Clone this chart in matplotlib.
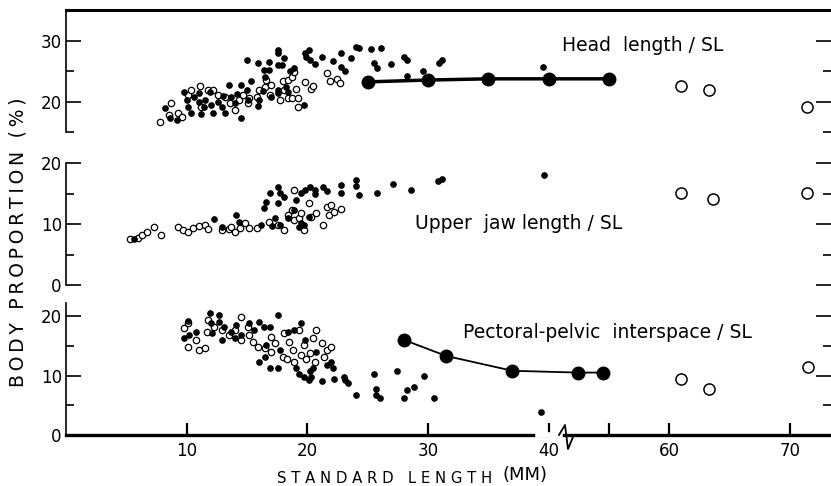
import numpy as np
import matplotlib
matplotlib.use("Agg")
import matplotlib.pyplot as plt
from matplotlib.lines import Line2D

# ---------------- data ----------------
# Head length / SL (%)
head_filled_x = [8.2, 8.6, 9.2, 9.8, 10.0, 10.1, 10.6, 11.0, 11.0, 11.5, 11.4, 12.2, 11.9, 12.6, 12.9,
                 13.2, 13.5, 13.7, 14.0, 14.5, 14.5, 15.0, 15.1, 15.3, 15.0, 15.9, 16.0, 15.9, 16.4,
                 16.8, 16.8, 16.5, 17.0, 17.6, 17.6, 17.6, 17.9, 18.1, 17.6, 17.6, 18.4, 18.9, 19.7,
                 19.8, 19.9, 20.1, 20.2, 20.6, 21.2, 22.1, 22.8, 22.8, 23.1, 23.6, 24.0, 24.3, 25.3,
                 26.1, 25.5, 25.8, 26.9, 28.0, 28.3, 28.3, 29.6, 30.9, 31.2, 39.5,
                 10.4, 12.0, 13.0, 11.2, 14.2, 16.3, 18.2, 18.6]
head_filled_y = [19.0, 17.4, 17.0, 21.6, 20.3, 19.2, 20.8, 21.5, 20.0, 20.3, 19.2, 18.2, 21.6, 20.0, 19.2,
                 18.2, 22.8, 20.8, 19.8, 17.4, 22.8, 22.0, 20.3, 23.5, 26.9, 19.3, 20.3, 26.4, 25.2,
                 26.6, 25.2, 24.1, 20.8, 28.5, 28.0, 26.1, 26.1, 27.2, 22.0, 21.5, 21.6, 25.6, 19.5,
                 28.0, 27.4, 28.5, 26.9, 26.2, 27.4, 26.7, 28.0, 25.8, 25.1, 27.2, 29.0, 28.8, 28.7,
                 28.9, 26.4, 25.6, 26.2, 27.4, 26.9, 24.3, 25.1, 26.4, 26.9, 25.7,
                 18.2, 19.5, 21.0, 18.0, 21.3, 21.8, 22.5, 25.0]
head_open_x = [7.8, 8.7, 8.5, 9.3, 9.6, 10.1, 10.4, 11.1, 11.2, 11.8, 12.2, 12.6, 13.2, 13.6, 14.0,
               14.3, 14.7, 15.1, 15.2, 15.8, 16.0, 16.5, 16.6, 16.9, 17.0, 17.7, 18.0, 18.1, 18.4,
               18.7, 18.4, 18.7, 19.1, 19.2, 19.2, 18.9, 19.8, 20.3, 20.5, 21.6, 21.9, 22.5, 22.7]
head_open_y = [16.7, 19.8, 17.9, 18.2, 17.5, 21.1, 22.0, 22.6, 19.2, 22.0, 22.0, 21.1, 20.8, 19.8, 18.7,
               20.3, 21.1, 19.8, 20.6, 20.8, 22.0, 22.5, 23.6, 21.1, 22.8, 20.3, 23.5, 22.0, 20.6,
               20.6, 23.6, 24.1, 22.1, 20.6, 19.2, 24.9, 23.3, 22.1, 22.6, 24.8, 23.4, 23.8, 23.1]
head_mean_x = [25, 30, 35, 40, 55]
head_mean_y = [23.3, 23.6, 23.8, 23.8, 23.8]
head_big_open_x = [61.0, 63.3, 71.4]
head_big_open_y = [22.6, 22.0, 19.2]

# Upper jaw length / SL (%)
jaw_filled_x = [5.6, 12.3, 12.9, 14.1, 14.3, 16.2, 16.4, 16.6, 16.9, 17.6, 17.7, 17.6, 18.1, 18.4,
                18.9, 19.1, 19.5, 19.8, 20.2, 20.6, 20.6, 19.7, 20.1, 21.3, 21.6, 22.8, 22.8, 24.0,
                24.0, 24.3, 25.8, 27.1, 28.6, 17.7, 17.3, 17.1, 19.5, 19.3, 30.8, 31.2, 39.6]
jaw_filled_y = [7.5, 10.8, 9.5, 11.5, 10.3, 9.8, 12.6, 13.6, 15.1, 16.1, 15.1, 13.4, 14.4, 11.0,
                12.3, 13.9, 15.1, 15.6, 16.1, 15.6, 14.9, 9.8, 11.1, 16.1, 15.4, 16.4, 15.1, 17.2,
                16.2, 14.8, 15.1, 16.6, 15.6, 9.8, 11.0, 9.7, 10.2, 9.5, 17.0, 17.4, 18.0]
jaw_open_x = [5.3, 6.0, 6.3, 6.7, 7.3, 7.9, 9.3, 9.7, 10.1, 10.5, 11.0, 11.5, 11.8, 12.9, 13.5,
              13.7, 14.0, 14.4, 14.8, 15.2, 15.8, 16.8, 17.6, 18.1, 18.4, 18.7, 18.9, 18.9, 19.3,
              19.7, 19.5, 20.1, 20.3, 20.7, 21.3, 21.6, 22.0, 21.8, 22.2, 22.8]
jaw_open_y = [7.5, 7.7, 8.2, 8.7, 9.5, 8.2, 9.5, 9.0, 8.7, 9.3, 9.7, 9.8, 9.2, 9.0, 9.2,
              9.5, 8.7, 9.3, 10.2, 9.3, 9.3, 10.3, 9.8, 9.0, 11.5, 12.3, 10.7, 15.6, 11.0,
              9.0, 11.8, 13.4, 11.1, 11.8, 9.8, 12.8, 13.1, 11.5, 12.0, 12.4]
jaw_big_open_x = [61.0, 63.6, 71.4]
jaw_big_open_y = [15.1, 14.1, 15.1]

# Pectoral-pelvic interspace / SL (%)
pec_filled_x = [10.1, 9.8, 10.2, 10.8, 11.9, 12.0, 12.1, 12.7, 12.7, 12.9, 13.1, 13.7, 14.0, 14.1,
                14.5, 15.2, 15.6, 16.0, 16.4, 16.9, 16.0, 16.5, 16.6, 16.9, 17.6, 17.6, 17.7, 18.4,
                18.9, 19.1, 19.3, 19.5, 19.7, 19.8, 20.1, 20.2, 20.3, 20.5, 20.7, 21.2, 21.6, 22.0,
                22.1, 22.2, 23.0, 23.1, 23.4, 24.0, 25.5, 25.7, 25.7, 26.0, 27.4, 28.0, 28.3, 28.8,
                29.7, 30.5, 39.4]
pec_filled_y = [19.2, 16.3, 16.8, 17.3, 20.5, 18.8, 17.2, 20.2, 19.0, 16.0, 18.2, 17.3, 16.3, 18.5,
                16.8, 18.8, 17.7, 19.0, 18.2, 18.2, 12.3, 13.2, 15.2, 11.3, 20.2, 11.3, 14.3, 17.3,
                17.7, 11.3, 10.2, 18.8, 9.8, 16.0, 9.3, 10.7, 9.8, 11.3, 14.0, 9.0, 11.8, 12.3,
                11.3, 9.5, 9.8, 9.3, 8.7, 6.8, 10.2, 7.7, 6.8, 6.3, 10.7, 6.3, 7.5, 8.0,
                10.0, 6.2, 3.8]
pec_open_x = [9.8, 10.1, 10.1, 10.8, 11.0, 11.5, 11.7, 11.8, 12.3, 12.9, 13.5, 14.0, 14.5, 14.5,
              15.1, 15.2, 15.5, 15.9, 16.5, 17.0, 17.3, 17.0, 18.0, 18.1, 18.3, 18.5, 18.8, 18.9,
              19.3, 19.5, 19.7, 19.9, 20.2, 20.5, 20.6, 20.7, 21.2, 21.4, 21.6, 22.0]
pec_open_y = [18.0, 18.8, 14.8, 16.0, 14.3, 14.7, 17.3, 19.3, 18.2, 17.7, 16.8, 17.7, 19.8, 16.0,
              18.2, 16.8, 15.7, 14.8, 14.7, 16.5, 15.5, 14.0, 13.2, 17.2, 12.7, 15.7, 14.3, 12.2,
              17.7, 13.5, 15.2, 12.7, 13.8, 16.3, 12.3, 17.7, 15.5, 13.2, 14.3, 14.8]
pec_mean_x = [28.0, 31.5, 37.0, 52.4, 54.5]
pec_mean_y = [16.0, 13.3, 10.8, 10.5, 10.5]
pec_big_open_x = [61.0, 63.3, 71.5]
pec_big_open_y = [9.5, 7.7, 11.5]

x_ticks = [10, 20, 30, 40, 55, 60, 70]
x_tick_labels = ["10", "20", "30", "40", "", "60", "70"]

# ---------------- broken x scale ----------------
def fwd(x):
    x = np.asarray(x, dtype=float)
    return np.where(x <= 41.5, x, np.where(x < 51.5, 41.5, x - 10.0))

def inv(p):
    p = np.asarray(p, dtype=float)
    return np.where(p <= 41.5, p, p + 10.0)

W, H = 831, 486
fig = plt.figure(figsize=(W / 100, H / 100), dpi=100)

def px_axes(top, bottom):
    left, right = 66, 831
    return fig.add_axes([left / W, 1 - bottom / H, (right - left) / W, (bottom - top) / H])

ax1 = px_axes(10.5, 132.5)
ax2 = px_axes(160, 285)
ax3 = px_axes(303, 435)

for ax in (ax1, ax2, ax3):
    ax.set_xscale('function', functions=(fwd, inv))
    ax.set_xlim(0, 73.4)
    ax.set_facecolor('none')
    for s in ('right', 'top', 'bottom'):
        ax.spines[s].set_visible(False)
    ax.spines['left'].set_linewidth(1.2)
    ax.tick_params(axis='y', which='both', direction='in', left=True, right=True,
                   width=1.2, labelsize=12, pad=3)
    ax.tick_params(axis='y', which='major', length=11)
    ax.tick_params(axis='y', which='minor', length=6)
    ax.tick_params(axis='x', which='both', bottom=False, labelbottom=False)
    ax.xaxis.set_minor_locator(matplotlib.ticker.NullLocator())

sf = dict(marker='o', ms=3.8, color='black', ls='none', zorder=3)
so = dict(marker='o', ms=4.6, mfc='white', mec='black', mew=0.9, ls='none', zorder=2)
bo = dict(marker='o', ms=8, mfc='white', mec='black', mew=1.1, ls='none', zorder=3)

# top panel
ax1.set_ylim(15, 35)
ax1.spines['top'].set_visible(True)
ax1.spines['top'].set_linewidth(2.2)
ax1.set_yticks([20, 30])
ax1.set_yticks([15, 25], minor=True)
ax1.plot(head_open_x, head_open_y, **so)
ax1.plot(head_filled_x, head_filled_y, **sf)
ax1.plot(head_mean_x, head_mean_y, '-o', color='black', lw=2.5, ms=9, zorder=4)
ax1.plot(head_big_open_x, head_big_open_y, **bo)
ax1.text(0.648, 0.717, "Head  length / SL", transform=ax1.transAxes, fontsize=13.5,
         ha='left', va='center')

# middle panel
ax2.set_ylim(0, 20.5)
ax2.spines['left'].set_bounds(0, 20)
ax2.set_yticks([0, 10, 20])
ax2.set_yticks([5, 15], minor=True)
ax2.plot(jaw_open_x, jaw_open_y, **so)
ax2.plot(jaw_filled_x, jaw_filled_y, **sf)
ax2.plot(jaw_big_open_x, jaw_big_open_y, **bo)
ax2.text(0.456, 0.496, "Upper  jaw length / SL", transform=ax2.transAxes, fontsize=13.5,
         ha='left', va='center')

# bottom panel
ax3.set_ylim(0, 22.2)
ax3.set_yticks([0, 10, 20])
ax3.set_yticks([5, 15], minor=True)
ax3.spines['bottom'].set_visible(True)
ax3.spines['bottom'].set_linewidth(2.4)
ax3.tick_params(axis='x', which='major', bottom=True, labelbottom=True, direction='in',
                length=9, width=1.6, labelsize=12, pad=5)
ax3.set_xticks(x_ticks)
ax3.set_xticklabels(x_tick_labels)
ax3.plot(pec_open_x, pec_open_y, **so)
ax3.plot(pec_filled_x, pec_filled_y, **sf)
ax3.plot(pec_mean_x, pec_mean_y, '-o', color='black', lw=1.3, ms=9, zorder=4)
ax3.plot(pec_big_open_x, pec_big_open_y, **bo)
ax3.text(0.519, 0.773, "Pectoral-pelvic  interspace / SL", transform=ax3.transAxes,
         fontsize=13.5, ha='left', va='center')

# axis break
def fx(px):
    return (px - 66) / 765.0
hpx = 132.0
ax3.add_line(Line2D([fx(538), fx(560)], [0, 0], transform=ax3.transAxes, color='white',
                    lw=4, clip_on=False, zorder=5))
ax3.add_line(Line2D([fx(559), fx(565), fx(568), fx(573)],
                    [0, 10 / hpx, -14 / hpx, -2 / hpx], transform=ax3.transAxes,
                    color='black', lw=1.3, clip_on=False, zorder=6))

ylabel = "BODY PROPORTION (%)"
fig.text(18 / W, 1 - 242 / H, "\u2009".join(ylabel), rotation=90, fontsize=13.5,
         ha='center', va='center')
fig.text(277 / W, 1 - 478 / H, "S T A N D A R D   L E N G T H", fontsize=10.7,
         ha='left', va='center')
fig.text(503 / W, 1 - 475 / H, "(MM)", fontsize=13, ha='left', va='center')

fig.savefig("out.png", dpi=100)
